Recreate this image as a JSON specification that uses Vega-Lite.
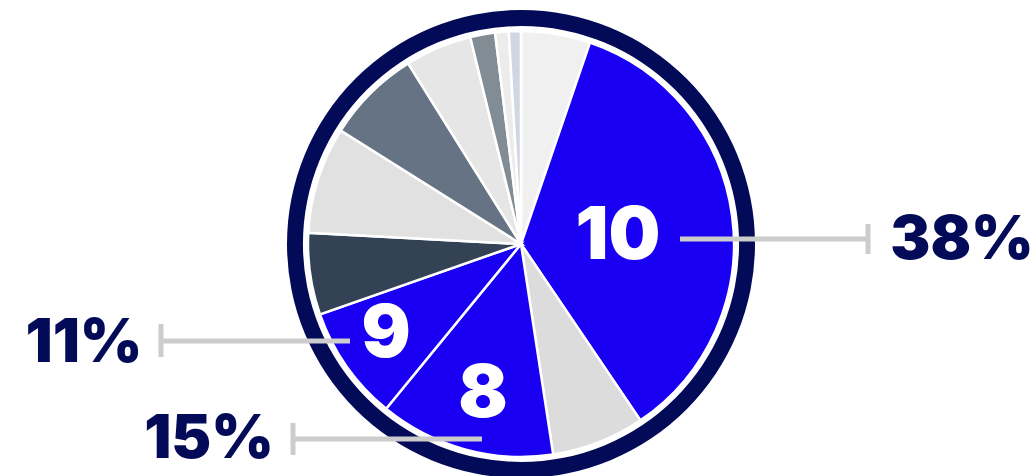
{
  "$schema": "https://vega.github.io/schema/vega-lite/v6.json",
  "width": 1035,
  "height": 476,
  "autosize": {"type": "fit", "contains": "padding"},
  "padding": {"left": 7, "top": 12, "right": 0, "bottom": 0},
  "background": "white",
  "config": {"view": {"stroke": null}},
  "datasets": {
    "slices": [
      {"i": 1, "slice": "A", "deg": 18.9},
      {"i": 2, "slice": "B10", "deg": 127.0},
      {"i": 3, "slice": "C", "deg": 25.4},
      {"i": 4, "slice": "D8", "deg": 48.0},
      {"i": 5, "slice": "E9", "deg": 31.4},
      {"i": 6, "slice": "F", "deg": 22.3},
      {"i": 7, "slice": "G", "deg": 29.2},
      {"i": 8, "slice": "H", "deg": 25.8},
      {"i": 9, "slice": "I", "deg": 18.2},
      {"i": 10, "slice": "J", "deg": 6.8},
      {"i": 11, "slice": "K", "deg": 3.7},
      {"i": 12, "slice": "L", "deg": 3.3}
    ],
    "ring": [{"deg": 360}],
    "lines": [
      {"x1": 159, "x2": 347, "y1": 5, "y2": 5},
      {"x1": 347, "x2": 347, "y1": 20, "y2": -10},
      {"x1": -362, "x2": -171, "y1": -97, "y2": -97},
      {"x1": -360, "x2": -360, "y1": -80, "y2": -113},
      {"x1": -228, "x2": -39, "y1": -195, "y2": -195},
      {"x1": -228, "x2": -228, "y1": -179, "y2": -211}
    ],
    "inner": [
      {"label": "10", "x": 97, "y": 7},
      {"label": "9", "x": -135, "y": -91},
      {"label": "8", "x": -38, "y": -151}
    ],
    "outer": [
      {"label": "38%", "x": 441, "y": 3},
      {"label": "11%", "x": -437, "y": -100},
      {"label": "15%", "x": -312, "y": -196}
    ]
  },
  "layer": [
    {
      "data": {"name": "ring"},
      "mark": {"type": "arc", "innerRadius": 218, "outerRadius": 234, "color": "#030b58"},
      "encoding": {"theta": {"field": "deg", "type": "quantitative", "stack": true}}
    },
    {
      "data": {"name": "slices"},
      "mark": {"type": "arc", "outerRadius": 213, "stroke": "white", "strokeWidth": 2.5},
      "encoding": {
        "theta": {"field": "deg", "type": "quantitative", "stack": true},
        "order": {"field": "i", "type": "quantitative"},
        "color": {
          "field": "slice", "type": "nominal", "legend": null,
          "scale": {
            "domain": ["A", "B10", "C", "D8", "E9", "F", "G", "H", "I", "J", "K", "L"],
            "range": ["#f0f0f0", "#1a00f2", "#dcdcdc", "#1a00f2", "#1a00f2", "#334355", "#e1e1e1", "#667384", "#e6e6e6", "#818c94", "#ececec", "#d0d6e2"]
          }
        }
      }
    },
    {
      "data": {"name": "lines"},
      "mark": {"type": "rule", "color": "#cccccc", "strokeWidth": 5},
      "encoding": {
        "x": {"field": "x1", "type": "quantitative", "axis": null, "scale": {"domain": [-514, 514], "nice": false, "zero": false}},
        "x2": {"field": "x2"},
        "y": {"field": "y1", "type": "quantitative", "axis": null, "scale": {"domain": [-232, 232], "nice": false, "zero": false}},
        "y2": {"field": "y2"}
      }
    },
    {
      "data": {"name": "inner"},
      "mark": {"type": "text", "color": "white", "font": "Inter", "fontWeight": 900, "fontSize": 73, "align": "center", "baseline": "middle"},
      "encoding": {
        "x": {"field": "x", "type": "quantitative"},
        "y": {"field": "y", "type": "quantitative"},
        "text": {"field": "label"}
      }
    },
    {
      "data": {"name": "outer"},
      "mark": {"type": "text", "color": "#030b58", "font": "Inter", "fontWeight": 900, "fontSize": 60, "align": "center", "baseline": "middle"},
      "encoding": {
        "x": {"field": "x", "type": "quantitative"},
        "y": {"field": "y", "type": "quantitative"},
        "text": {"field": "label"}
      }
    }
  ],
  "resolve": {"scale": {"theta": "independent"}}
}
